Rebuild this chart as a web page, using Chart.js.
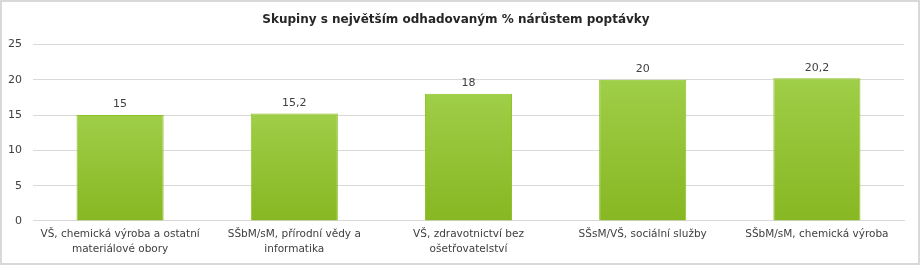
<!DOCTYPE html>
<html>
<head>
<meta charset="utf-8">
<script src="https://cdn.jsdelivr.net/npm/chart.js@4"></script>
<style>
  html, body { margin: 0; padding: 0; background: #fff; }
  #wrap { position: relative; width: 920px; height: 266px; }
  #frame { position: absolute; left: 0; top: 0; width: 920px; height: 265px; box-sizing: border-box; border: 2px solid #d9d9d9; pointer-events: none; }
</style>
</head>
<body>
<div id="wrap">
  <canvas id="chart" width="920" height="266"></canvas>
  <div id="frame"></div>
</div>
<script>
const titleText = "Skupiny s největším odhadovaným % nárůstem poptávky"
const categories = [
    ["VŠ, chemická výroba a ostatní", "materiálové obory"],
    ["SŠbM/sM, přírodní vědy a", "informatika"],
    ["VŠ, zdravotnictví bez", "ošetřovatelství"],
    "SŠsM/VŠ, sociální služby",
    "SŠbM/sM, chemická výroba",
]
const values = [15, 15.2, 18, 20, 20.2]
const yTicks = [0, 5, 10, 15, 20, 25]

const fontFamily = "'DejaVu Sans', sans-serif"
const textColor = "#404040"

// gradient per bar, lighter at the top
function barGradient(context) {
    const chart = context.chart
    const yScale = chart.scales.y
    if (!chart.chartArea || !yScale || context.dataIndex === undefined) return "#95c53a"
    const top = yScale.getPixelForValue(values[context.dataIndex])
    const base = yScale.getPixelForValue(0)
    if (!isFinite(top) || !isFinite(base)) return "#95c53a"
    const g = chart.ctx.createLinearGradient(0, top, 0, base)
    g.addColorStop(0, "#9fce48")
    g.addColorStop(1, "#87b722")
    return g
}

const valueLabels = {
    id: "valueLabels",
    afterDatasetsDraw(chart) {
        const ctx = chart.ctx
        const meta = chart.getDatasetMeta(0)
        ctx.save()
        ctx.font = "11px " + fontFamily
        ctx.fillStyle = textColor
        ctx.textAlign = "center"
        ctx.textBaseline = "bottom"
        meta.data.forEach((bar, i) => {
            ctx.fillText(String(values[i]).replace(".", ","), bar.x, bar.y - 5)
        })
        ctx.restore()
    },
}

new Chart(document.getElementById("chart"), {
    type: "bar",
    data: {
        labels: categories,
        datasets: [
            {
                data: values,
                backgroundColor: barGradient,
                borderColor: "#8cc21f",
                borderWidth: 1,
                barPercentage: 0.5,
                categoryPercentage: 1,
            },
        ],
    },
    options: {
        responsive: false,
        animation: false,
        layout: { padding: { left: 8, right: 16, top: 0, bottom: 3 } },
        plugins: {
            legend: { display: false },
            tooltip: { enabled: false },
            title: {
                display: true,
                text: titleText,
                color: "#262626",
                font: { family: fontFamily, size: 12, weight: "bold" },
                padding: { top: 13, bottom: 17 },
            },
        },
        scales: {
            x: {
                grid: { display: false, drawTicks: false },
                border: { color: "#d9d9d9", width: 1 },
                ticks: {
                    color: textColor,
                    font: { family: fontFamily, size: 10.5, lineHeight: 1.43 },
                    padding: 6,
                    maxRotation: 0,
                    autoSkip: false,
                },
            },
            y: {
                min: 0,
                max: 25,
                afterBuildTicks(scale) {
                    scale.ticks = yTicks.map((v) => ({ value: v }))
                },
                afterFit(scale) {
                    scale.width = 25
                },
                grid: { color: "#d9d9d9", drawTicks: false },
                border: { display: false },
                ticks: {
                    color: textColor,
                    font: { family: fontFamily, size: 11 },
                    padding: 11,
                },
            },
        },
    },
    plugins: [valueLabels],
})
</script>
</body>
</html>
